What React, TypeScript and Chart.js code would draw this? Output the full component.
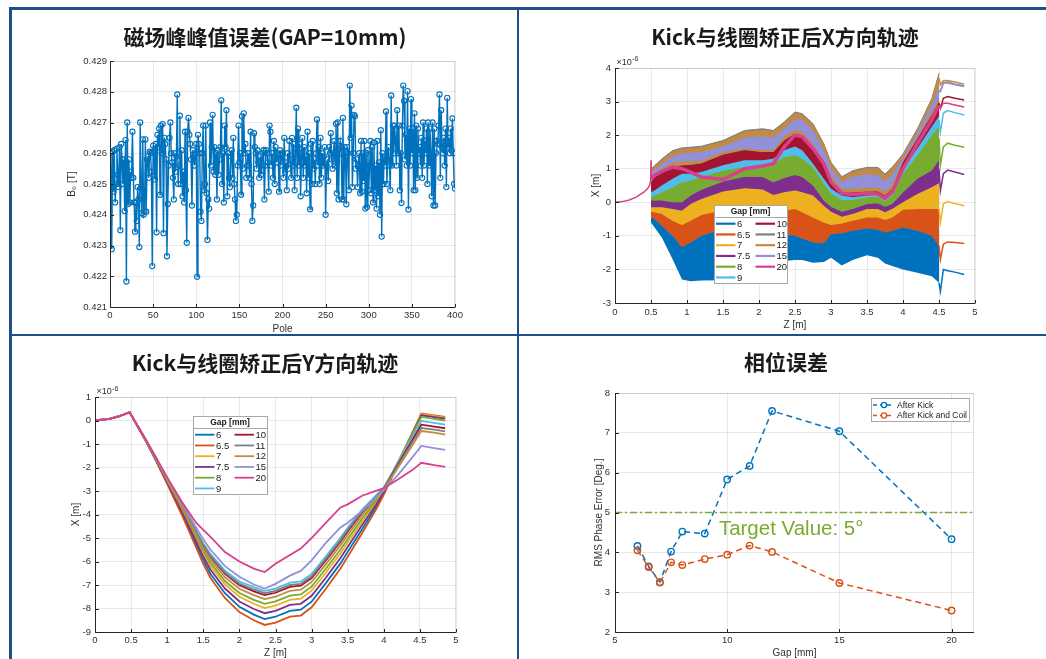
import React, { useEffect, useRef } from "react";
import { Chart, registerables } from "chart.js";

Chart.register(...registerables);

const W = 1046;
const H = 659;
const FONT = "'Liberation Sans', Arial, Helvetica, sans-serif";
const CJK = "'Noto Sans CJK SC', 'Noto Sans', sans-serif";
const TICK_COLOR = "#303030";
const GRID_COLOR = "rgba(0,0,0,0.085)";
const FRAME_BLUE = "#1f4e8c";

// ---------------- Panel 1: B0 peak error per pole ----------------
const p1Title = "磁场峰峰值误差(GAP=10mm)";
const p1XTicks = [0, 50, 100, 150, 200, 250, 300, 350, 400];
const p1YTicks = [0.421, 0.422, 0.423, 0.424, 0.425, 0.426, 0.427, 0.428, 0.429];
const poleB0 = [
  0.426, 0.42288, 0.42605, 0.42475, 0.4261, 0.4244, 0.425, 0.42615, 0.4253, 0.4249,
  0.4262, 0.4235, 0.4263, 0.4258, 0.425, 0.4258, 0.42412, 0.42643, 0.42183, 0.427,
  0.42435, 0.4258, 0.4244, 0.4254, 0.4252, 0.4267, 0.4252, 0.4244, 0.42345, 0.4244,
  0.4238, 0.4249, 0.4245, 0.42295, 0.427, 0.4249, 0.42405, 0.42645, 0.424, 0.4241,
  0.42645, 0.4241, 0.4258, 0.4259, 0.4252, 0.42605, 0.426, 0.4254, 0.42233, 0.42625,
  0.42605, 0.42515, 0.4263, 0.42343, 0.4266, 0.4262, 0.4268, 0.42465, 0.4269, 0.426,
  0.42695, 0.4234, 0.4265, 0.4263, 0.4258, 0.42265, 0.42435, 0.4256, 0.4265, 0.427,
  0.426, 0.4257, 0.4252, 0.4245, 0.426, 0.4254, 0.4259, 0.42791, 0.425, 0.4256,
  0.42722, 0.425, 0.4261, 0.4246, 0.4254, 0.4244, 0.4267, 0.4248, 0.42309, 0.4267,
  0.42715, 0.4266, 0.4263, 0.4258, 0.4243, 0.4261, 0.4259, 0.4256, 0.426, 0.4263,
  0.42198, 0.4266, 0.4263, 0.426, 0.4241, 0.4238, 0.426, 0.4269, 0.4248, 0.425,
  0.4269, 0.4247, 0.42318, 0.4245, 0.4242, 0.427, 0.4256, 0.4262, 0.42725, 0.4254,
  0.4262, 0.4253, 0.426, 0.4245, 0.4261, 0.4253, 0.4258, 0.4262, 0.42772, 0.425,
  0.426, 0.4244, 0.4269, 0.4262, 0.4274, 0.4246, 0.426, 0.4252, 0.4249, 0.4259,
  0.4261, 0.4252, 0.4265, 0.425, 0.4245, 0.4238, 0.424, 0.4256, 0.4269, 0.4257,
  0.426, 0.42465, 0.4272, 0.4255, 0.4273, 0.426, 0.4263, 0.4252, 0.4256, 0.426,
  0.4256, 0.4252, 0.4267, 0.425, 0.4238, 0.4243, 0.42665, 0.4262, 0.426, 0.4255,
  0.4261, 0.4257, 0.4252, 0.4259, 0.4253, 0.42545, 0.426, 0.4261, 0.4245, 0.4256,
  0.4261, 0.426, 0.4257, 0.42475, 0.4269, 0.4267, 0.4256, 0.426, 0.4252, 0.4264,
  0.425, 0.4262, 0.4257, 0.426, 0.4259, 0.42475, 0.4261, 0.4256, 0.4259, 0.426,
  0.4252, 0.4265, 0.4254, 0.4257, 0.4248, 0.426, 0.4255, 0.4264, 0.4258, 0.4252,
  0.4265, 0.4256, 0.4263, 0.4248, 0.426, 0.42748, 0.4252, 0.4268, 0.4256, 0.4263,
  0.4246, 0.426, 0.4265, 0.4252, 0.4262, 0.4256, 0.4259, 0.4247, 0.4267, 0.4252,
  0.426, 0.42418, 0.4263, 0.425, 0.4264, 0.4255, 0.4258, 0.425, 0.426, 0.4271,
  0.4256, 0.4262, 0.425, 0.4265, 0.4252, 0.426, 0.4256, 0.4259, 0.4262, 0.424,
  0.4256, 0.4258, 0.4251, 0.4262, 0.426, 0.42665, 0.4258, 0.4255, 0.426, 0.4264,
  0.4256, 0.42696, 0.4247, 0.427, 0.4245, 0.426, 0.4264, 0.4262, 0.4245, 0.42715,
  0.4245, 0.4262, 0.4259, 0.42434, 0.4262, 0.426, 0.4248, 0.4282, 0.4265, 0.42755,
  0.4249, 0.426, 0.42725, 0.4272, 0.4255, 0.4258, 0.4249, 0.4256, 0.426, 0.4247,
  0.4264, 0.42475, 0.426, 0.4251, 0.4264, 0.4242, 0.426, 0.42425, 0.4261, 0.4248,
  0.4256, 0.4264, 0.4247, 0.4262, 0.4244, 0.42635, 0.4248, 0.4256, 0.4242, 0.4264,
  0.4246, 0.4257, 0.424, 0.42675, 0.42329, 0.426, 0.425, 0.4259, 0.4256, 0.42736,
  0.425, 0.4258, 0.4262, 0.4256, 0.4248, 0.42788, 0.4256, 0.4269, 0.426, 0.4269,
  0.4264, 0.4256, 0.4274, 0.426, 0.4269, 0.4248, 0.426, 0.42438, 0.4269, 0.4282,
  0.4277, 0.4258, 0.4266, 0.4256, 0.42802, 0.42417, 0.4268, 0.4256, 0.42776, 0.426,
  0.4268, 0.4248, 0.4273, 0.4248, 0.4269, 0.4252, 0.4268, 0.426, 0.4262, 0.4256,
  0.4265, 0.4252, 0.427, 0.4256, 0.4264, 0.426, 0.4268, 0.425, 0.427, 0.4256,
  0.4268, 0.426, 0.4246, 0.427, 0.4243, 0.4268, 0.4243, 0.426, 0.4264, 0.4263,
  0.4269, 0.42791, 0.4252, 0.4274, 0.4262, 0.426, 0.4265, 0.4256, 0.4268, 0.4249,
  0.4278, 0.4262, 0.4265, 0.426, 0.4268, 0.4261, 0.42713, 0.426, 0.425, 0.42485,
];

// ---------------- Shared gap legend ----------------
const gapLabels = ["6", "6.5", "7", "7.5", "8", "9", "10", "11", "12", "15", "20"];
const gapColors = ["#0072BD", "#D95319", "#EDB120", "#7E2F8E", "#77AC30", "#4DBEEE", "#A2142F", "#7F7F7F", "#C38A44", "#9290D8", "#D6408C"];
const zTicks = [0, 0.5, 1, 1.5, 2, 2.5, 3, 3.5, 4, 4.5, 5];

// ---------------- Panel 2: X trajectory bands ----------------
const p2Title = "Kick与线圈矫正后X方向轨迹";
const p2YTicks = [-3, -2, -1, 0, 1, 2, 3, 4];
const zBand = [0.5, 0.55, 0.65, 0.8, 0.93, 1.05, 1.2, 1.5, 1.8, 2.05, 2.2, 2.35, 2.5, 2.6, 2.75, 2.9, 3.0, 3.15, 3.3, 3.5, 3.65, 3.75, 3.85, 4.0, 4.2, 4.4, 4.5];
const xEdge0 = [-0.6, -0.75, -1.05, -1.7, -2.3, -2.35, -2.33, -2.32, -2.05, -1.75, -1.75, -1.75, -1.72, -1.72, -1.8, -1.78, -1.65, -1.88, -1.72, -1.58, -1.65, -1.82, -1.9, -2.0, -2.1, -2.2, -2.4];
const xEdge1 = [-0.45, -0.5, -0.7, -1.0, -1.33, -1.2, -1.0, -0.8, -0.7, -0.82, -0.92, -0.95, -1.0, -1.08, -1.2, -1.22, -0.95, -0.92, -0.85, -0.78, -0.82, -0.9, -0.85, -0.75, -0.85, -1.0, -1.3];
const xEdge2 = [-0.28, -0.3, -0.35, -0.55, -0.68, -0.55, -0.38, -0.24, -0.14, -0.2, -0.3, -0.25, -0.2, -0.3, -0.45, -0.6, -0.68, -0.63, -0.55, -0.45, -0.45, -0.53, -0.45, -0.22, -0.2, -0.2, -0.2];
const xEdge3 = [-0.15, -0.15, -0.15, -0.2, -0.25, -0.05, 0.1, 0.32, 0.42, 0.38, 0.22, 0.3, 0.35, 0.3, 0.2, -0.1, -0.28, -0.43, -0.35, -0.2, -0.2, -0.3, -0.2, 0.0, 0.25, 0.45, 0.57];
const xEdge4 = [0.05, 0.05, 0.05, 0.0, 0.0, 0.2, 0.37, 0.62, 0.76, 0.75, 0.6, 0.72, 0.81, 0.75, 0.5, 0.05, -0.13, -0.28, -0.2, -0.05, -0.03, -0.13, -0.05, 0.3, 0.7, 0.95, 1.26];
const xEdge5 = [0.15, 0.2, 0.3, 0.45, 0.6, 0.65, 0.76, 0.95, 1.06, 1.1, 1.15, 1.35, 1.4, 1.3, 1.05, 0.55, 0.27, 0.07, 0.07, 0.15, 0.17, 0.03, 0.2, 0.85, 1.4, 2.0, 2.26];
const xEdge6 = [0.3, 0.35, 0.5, 0.7, 0.85, 0.85, 0.9, 1.1, 1.25, 1.25, 1.3, 1.55, 1.66, 1.55, 1.15, 0.7, 0.4, 0.2, 0.15, 0.2, 0.22, 0.1, 0.25, 1.0, 1.6, 2.25, 2.56];
const xEdge7 = [0.6, 0.75, 0.9, 1.05, 1.1, 1.12, 1.16, 1.42, 1.56, 1.5, 1.5, 1.85, 2.05, 2.0, 1.6, 1.1, 0.65, 0.28, 0.3, 0.32, 0.33, 0.2, 0.4, 1.2, 1.9, 2.6, 3.0];
const xTop = [0.95, 1.05, 1.25, 1.5, 1.58, 1.6, 1.63, 1.8, 2.1, 2.15, 2.1, 2.35, 2.65, 2.6, 2.3, 1.7, 1.15, 0.72, 0.9, 1.0, 1.0, 0.8, 1.0, 1.4, 2.15, 3.05, 3.8];
const xTopGrey = [0.99, 1.09, 1.29, 1.54, 1.62, 1.64, 1.67, 1.84, 2.14, 2.19, 2.14, 2.39, 2.69, 2.64, 2.34, 1.74, 1.19, 0.76, 0.94, 1.04, 1.04, 0.84, 1.04, 1.44, 2.19, 3.09, 3.84];
const x15Low = [0.68, 0.85, 1.0, 1.18, 1.22, 1.22, 1.24, 1.5, 1.6, 1.56, 1.56, 1.95, 2.15, 2.1, 1.72, 1.22, 0.78, 0.4, 0.4, 0.43, 0.44, 0.32, 0.52, 1.25, 1.95, 2.7, 3.08];
const x15High = [0.85, 0.95, 1.12, 1.35, 1.45, 1.46, 1.48, 1.65, 1.92, 1.95, 1.92, 2.18, 2.45, 2.45, 2.12, 1.52, 0.98, 0.6, 0.75, 0.82, 0.8, 0.62, 0.8, 1.32, 2.05, 2.88, 3.35];
const x20Mid = [0.7, 0.8, 0.92, 1.05, 1.0, 0.9, 0.75, 0.68, 1.0, 1.08, 1.15, 1.65, 2.0, 1.95, 1.6, 1.15, 0.6, 0.27, 0.23, 0.27, 0.25, 0.12, 0.3, 1.0, 1.75, 2.45, 2.9];
const zLead = [0, 0.1, 0.2, 0.3, 0.4, 0.45, 0.48, 0.495, 0.5, 0.503];
const xLead = [0, 0.02, 0.07, 0.16, 0.3, 0.4, 0.5, 0.65, 1.25, 0.7];
const zTail = [4.5, 4.52, 4.56, 4.62, 4.72, 4.85];
const xTail6 = [-2.4, -2.65, -2.0, -2.04, -2.08, -2.15];
const xTail65 = [-1.3, -1.7, -1.25, -1.18, -1.2, -1.23];
const xTail7 = [-0.2, -0.6, -0.05, 0.02, -0.04, -0.1];
const xTail75 = [1.0, 0.35, 0.85, 0.96, 0.9, 0.83];
const xTail8 = [1.9, 1.1, 1.65, 1.76, 1.7, 1.64];
const xTail9 = [2.45, 2.1, 2.65, 2.73, 2.67, 2.6];
const xTail10 = [2.95, 2.8, 3.1, 3.15, 3.1, 3.05];
const xTail11 = [3.3, 3.3, 3.55, 3.58, 3.52, 3.47];
const xTail12 = [3.7, 3.5, 3.62, 3.63, 3.58, 3.52];
const xTail15 = [3.3, 3.3, 3.55, 3.55, 3.5, 3.45];
const xTail20 = [2.9, 2.8, 2.95, 2.95, 2.9, 2.84];

// ---------------- Panel 3: Y trajectories ----------------
const p3Title = "Kick与线圈矫正后Y方向轨迹";
const p3YTicks = [-9, -8, -7, -6, -5, -4, -3, -2, -1, 0, 1];
const zY = [0, 0.2, 0.35, 0.48, 0.7, 0.85, 1.0, 1.2, 1.4, 1.5, 1.6, 1.8, 2.0, 2.2, 2.35, 2.5, 2.7, 2.85, 3.0, 3.2, 3.4, 3.5, 3.7, 3.9, 4.0, 4.2, 4.4, 4.52, 4.7, 4.85];
const y6 = [0, 0.07, 0.2, 0.35, -0.84, -1.73, -2.66, -3.93, -5.28, -5.95, -6.53, -7.35, -7.93, -8.26, -8.45, -8.35, -8.1, -8.05, -7.71, -6.91, -6.08, -5.59, -4.63, -3.65, -3.1, -1.81, -0.52, 0.25, 0.17, 0.1];
const y65 = [0, 0.07, 0.2, 0.35, -0.85, -1.75, -2.7, -4.0, -5.4, -6.1, -6.7, -7.55, -8.15, -8.5, -8.7, -8.6, -8.35, -8.3, -7.95, -7.15, -6.3, -5.8, -4.8, -3.75, -3.15, -1.82, -0.49, 0.3, 0.22, 0.15];
const y7 = [0, 0.07, 0.2, 0.35, -0.83, -1.69, -2.59, -3.78, -5.04, -5.67, -6.2, -6.97, -7.5, -7.8, -7.98, -7.88, -7.63, -7.58, -7.24, -6.47, -5.65, -5.19, -4.3, -3.46, -3.0, -1.74, -0.48, 0.27, 0.19, 0.12];
const y75 = [0, 0.07, 0.2, 0.35, -0.84, -1.71, -2.63, -3.85, -5.15, -5.8, -6.35, -7.15, -7.7, -8.02, -8.2, -8.1, -7.85, -7.8, -7.46, -6.68, -5.85, -5.38, -4.45, -3.55, -3.05, -1.79, -0.53, 0.22, 0.14, 0.08];
const y8 = [0, 0.07, 0.2, 0.35, -0.82, -1.68, -2.57, -3.73, -4.95, -5.56, -6.07, -6.83, -7.34, -7.63, -7.8, -7.7, -7.45, -7.4, -7.07, -6.3, -5.49, -5.04, -4.17, -3.39, -2.95, -1.76, -0.56, 0.15, 0.07, 0.0];
const y9 = [0, 0.07, 0.2, 0.35, -0.81, -1.63, -2.48, -3.57, -4.68, -5.23, -5.69, -6.39, -6.85, -7.09, -7.25, -7.15, -6.9, -6.85, -6.53, -5.77, -4.99, -4.57, -3.79, -3.17, -2.85, -1.76, -0.67, -0.02, -0.1, -0.18];
const y10 = [0, 0.07, 0.2, 0.35, -0.81, -1.65, -2.51, -3.62, -4.77, -5.34, -5.81, -6.53, -7.01, -7.27, -7.43, -7.33, -7.08, -7.03, -6.71, -5.94, -5.16, -4.72, -3.91, -3.24, -2.9, -1.85, -0.81, -0.18, -0.26, -0.33];
const y11 = [0, 0.07, 0.2, 0.35, -0.81, -1.64, -2.5, -3.6, -4.73, -5.29, -5.76, -6.47, -6.94, -7.19, -7.35, -7.25, -7.0, -6.95, -6.63, -5.87, -5.09, -4.65, -3.86, -3.21, -2.9, -1.91, -0.91, -0.32, -0.39, -0.46];
const y12 = [0, 0.07, 0.2, 0.35, -0.82, -1.66, -2.54, -3.67, -4.85, -5.44, -5.93, -6.67, -7.16, -7.43, -7.6, -7.5, -7.25, -7.2, -6.87, -6.11, -5.31, -4.87, -4.03, -3.31, -2.95, -1.99, -1.03, -0.45, -0.52, -0.6];
const y15 = [0, 0.07, 0.2, 0.35, -0.8, -1.6, -2.45, -3.5, -4.55, -5.05, -5.5, -6.2, -6.65, -6.98, -7.15, -6.95, -6.6, -6.4, -5.95, -5.2, -4.55, -4.35, -3.85, -3.25, -2.95, -2.3, -1.55, -1.08, -1.18, -1.25];
const y20 = [0, 0.07, 0.2, 0.35, -0.8, -1.6, -2.42, -3.45, -4.35, -4.65, -4.95, -5.6, -6.0, -6.3, -6.45, -6.1, -5.72, -5.45, -5.0, -4.35, -3.7, -3.57, -3.2, -2.98, -2.88, -2.5, -2.1, -1.8, -1.9, -1.97];

// ---------------- Panel 4: RMS phase error ----------------
const p4Title = "相位误差";
const p4XTicks = [5, 10, 15, 20];
const p4YTicks = [2, 3, 4, 5, 6, 7, 8];
const gaps = [6, 6.5, 7, 7.5, 8, 9, 10, 11, 12, 15, 20];
const afterKick = [4.16, 3.65, 3.25, 4.02, 4.52, 4.47, 5.83, 6.17, 7.55, 7.04, 4.33];
const afterKickCoil = [4.05, 3.63, 3.24, 3.75, 3.68, 3.83, 3.94, 4.17, 4.01, 3.23, 2.54];
const targetValue = 5;
const targetLabel = "Target Value: 5°";
const p4Series = ["After Kick", "After Kick and Coil"];

// ---------------- helpers ----------------
const pts = (xs: number[], ys: number[]) => xs.map((x, i) => ({ x, y: ys[i] }));
const numFmt = (v: number) => String(Number(Number(v).toFixed(4)));

function makeScales(p: any) {
  const tickFont = { family: FONT, size: 9.5 };
  const titleFont = { family: FONT, size: 10 };
  return {
    x: {
      type: "linear",
      min: p.xMin,
      max: p.xMax,
      afterBuildTicks: (s: any) => { s.ticks = p.xTicks.map((v: number) => ({ value: v })); },
      afterFit: (s: any) => { s.height = p.xH; },
      ticks: { font: tickFont, color: TICK_COLOR, padding: p.xPad, maxRotation: 0, minRotation: 0, autoSkip: false, callback: (v: number) => numFmt(v) },
      grid: { color: GRID_COLOR, drawTicks: false, lineWidth: 1 },
      border: { display: false },
      title: { display: true, text: p.xTitle, font: titleFont, color: TICK_COLOR, padding: 0 },
    },
    y: {
      type: "linear",
      min: p.yMin,
      max: p.yMax,
      afterBuildTicks: (s: any) => { s.ticks = p.yTicks.map((v: number) => ({ value: v })); },
      afterFit: (s: any) => { s.width = p.yW; },
      ticks: { font: tickFont, color: TICK_COLOR, padding: p.yPad, autoSkip: false, callback: p.yFmt || ((v: number) => numFmt(v)) },
      grid: { color: GRID_COLOR, drawTicks: false, lineWidth: 1 },
      border: { display: false },
      title: { display: true, text: p.yTitle, font: titleFont, color: TICK_COLOR, padding: 0 },
    },
  };
}

const matAxes = {
  id: "matAxes",
  afterDatasetsDraw(chart: any) {
    const { ctx, chartArea: a, scales } = chart;
    const xs = scales.x;
    const ys = scales.y;
    ctx.save();
    ctx.lineWidth = 1;
    ctx.strokeStyle = "rgba(0,0,0,0.12)";
    ctx.beginPath();
    ctx.moveTo(a.left, Math.round(a.top) + 0.5);
    ctx.lineTo(a.right, Math.round(a.top) + 0.5);
    ctx.moveTo(Math.round(a.right) - 0.5, a.top);
    ctx.lineTo(Math.round(a.right) - 0.5, a.bottom);
    ctx.stroke();
    ctx.strokeStyle = "#262626";
    ctx.beginPath();
    const L = Math.round(a.left) + 0.5;
    const B = Math.round(a.bottom) + 0.5;
    ctx.moveTo(L, a.top);
    ctx.lineTo(L, B);
    ctx.lineTo(a.right, B);
    for (const t of xs.ticks) {
      const px = Math.round(xs.getPixelForValue(t.value)) + 0.5;
      ctx.moveTo(px, B);
      ctx.lineTo(px, B - 3.5);
    }
    for (const t of ys.ticks) {
      const py = Math.round(ys.getPixelForValue(t.value)) + 0.5;
      ctx.moveTo(L, py);
      ctx.lineTo(L + 3.5, py);
    }
    ctx.stroke();
    ctx.restore();
  },
};

function drawExponent(ctx: CanvasRenderingContext2D, x: number, y: number) {
  ctx.save();
  ctx.fillStyle = TICK_COLOR;
  ctx.textAlign = "left";
  ctx.textBaseline = "middle";
  ctx.font = `9px ${FONT}`;
  ctx.fillText("×10", x, y);
  const w = ctx.measureText("×10").width;
  ctx.font = `7px ${FONT}`;
  ctx.fillText("-6", x + w + 0.5, y - 3);
  ctx.restore();
}

function drawGapLegend(ctx: CanvasRenderingContext2D, x: number, y: number, w: number, h: number, lineW: number) {
  ctx.save();
  ctx.fillStyle = "#ffffff";
  ctx.fillRect(x, y, w, h);
  ctx.strokeStyle = "#a8a8a8";
  ctx.lineWidth = 1;
  ctx.strokeRect(x + 0.5, y + 0.5, w, h);
  ctx.fillStyle = "#1a1a1a";
  ctx.font = `bold 8.5px ${FONT}`;
  ctx.textAlign = "center";
  ctx.textBaseline = "middle";
  ctx.fillText("Gap [mm]", x + w / 2, y + 7);
  ctx.beginPath();
  ctx.moveTo(x, y + 12.5);
  ctx.lineTo(x + w, y + 12.5);
  ctx.stroke();
  ctx.font = `9.5px ${FONT}`;
  ctx.textAlign = "left";
  gapLabels.forEach((lab, k) => {
    const col = k < 6 ? 0 : 1;
    const row = k < 6 ? k : k - 6;
    const ly = y + 18.7 + row * 10.75;
    const lx = x + 2 + col * 39.5;
    ctx.strokeStyle = gapColors[k];
    ctx.lineWidth = lineW;
    ctx.beginPath();
    ctx.moveTo(lx, ly);
    ctx.lineTo(lx + 19.5, ly);
    ctx.stroke();
    ctx.fillStyle = "#1a1a1a";
    ctx.fillText(lab, lx + 21, ly + 0.5);
  });
  ctx.restore();
}

function ChartCanvas({ make }: { make: () => any }) {
  const ref = useRef<HTMLCanvasElement | null>(null);
  useEffect(() => {
    const chart = new Chart(ref.current as HTMLCanvasElement, make());
    return () => chart.destroy();
  }, []);
  return (
    <canvas
      ref={ref}
      width={W}
      height={H}
      style={{ position: "absolute", left: 0, top: 0, width: W, height: H }}
    />
  );
}

const baseOptions = (padding: any, scales: any, extra: any = {}) => ({
  responsive: false,
  animation: false,
  devicePixelRatio: 1,
  events: [],
  layout: { padding },
  plugins: { legend: { display: false }, tooltip: { enabled: false }, title: { display: false } },
  scales,
  ...extra,
});

// ---------- configs ----------
function makeP1() {
  return {
    type: "line",
    data: {
      datasets: [
        {
          data: poleB0.map((v, i) => ({ x: i + 1, y: v })),
          borderColor: "#0072BD",
          borderWidth: 1.4,
          pointRadius: 2.6,
          pointBorderWidth: 1.1,
          pointBorderColor: "#0072BD",
          pointBackgroundColor: "rgba(255,255,255,0)",
          fill: false,
        },
      ],
    },
    options: baseOptions(
      { left: 66, right: 591, top: 61, bottom: 324 },
      makeScales({
        xMin: 0, xMax: 400, xTicks: p1XTicks, xH: 28, xPad: 3, xTitle: "Pole",
        yMin: 0.421, yMax: 0.429, yTicks: p1YTicks, yW: 44, yPad: 3, yTitle: "B₀ [T]",
        yFmt: (v: number) => Number(v).toFixed(3),
      })
    ),
    plugins: [matAxes],
  };
}

function makeP2() {
  const datasets: any[] = [];
  let seq = 0;
  const bands = [
    [xEdge0, xEdge1], [xEdge1, xEdge2], [xEdge2, xEdge3], [xEdge3, xEdge4], [xEdge4, xEdge5],
    [xEdge5, xEdge6], [xEdge6, xEdge7], [xEdge7, xTopGrey], [xEdge7, xTop], [x15Low, x15High],
  ];
  bands.forEach(([lo, hi], k) => {
    datasets.push({ data: pts(zBand, lo), borderColor: "rgba(0,0,0,0)", borderWidth: 1, pointRadius: 0, fill: false, order: 1000 - seq++ });
    datasets.push({ data: pts(zBand, hi), borderColor: gapColors[k], backgroundColor: gapColors[k], borderWidth: 1, pointRadius: 0, fill: "-1", order: 1000 - seq++ });
  });
  datasets.push({ data: pts(zBand, x20Mid), borderColor: gapColors[10], borderWidth: 3.5, pointRadius: 0, fill: false, order: 1000 - seq++ });
  const tails = [xTail6, xTail65, xTail7, xTail75, xTail8, xTail9, xTail10, xTail11, xTail12, xTail15, xTail20];
  tails.forEach((t, k) => {
    datasets.push({ data: pts(zTail, t), borderColor: gapColors[k], borderWidth: 1.5, pointRadius: 0, fill: false, order: 1000 - seq++ });
  });
  datasets.push({ data: pts(zLead, xLead), borderColor: gapColors[10], borderWidth: 1.5, pointRadius: 0, fill: false, order: 1000 - seq++ });
  return {
    type: "line",
    data: { datasets },
    options: baseOptions(
      { left: 590, right: 71, top: 68, bottom: 328 },
      makeScales({
        xMin: 0, xMax: 5, xTicks: zTicks, xH: 28, xPad: 4, xTitle: "Z [m]",
        yMin: -3, yMax: 4, yTicks: p2YTicks, yW: 25, yPad: 4, yTitle: "X [m]",
      })
    ),
    plugins: [
      matAxes,
      {
        id: "p2extra",
        afterDraw(chart: any) {
          const a = chart.chartArea;
          drawExponent(chart.ctx, a.left + 1.5, a.top - 5.5);
          drawGapLegend(chart.ctx, 714, 205, 73, 78, 2.2);
        },
      },
    ],
  };
}

function makeP3() {
  const series = [y6, y65, y7, y75, y8, y9, y10, y11, y12, y15, y20];
  const datasets = series.map((s, k) => ({
    data: pts(zY, s),
    borderColor: gapColors[k],
    borderWidth: 1.8,
    pointRadius: 0,
    fill: false,
    order: 100 - k,
  }));
  return {
    type: "line",
    data: { datasets },
    options: baseOptions(
      { left: 70, right: 590, top: 397, bottom: 0 },
      makeScales({
        xMin: 0, xMax: 5, xTicks: zTicks, xH: 27, xPad: 3, xTitle: "Z [m]",
        yMin: -9, yMax: 1, yTicks: p3YTicks, yW: 25, yPad: 4, yTitle: "X [m]",
      })
    ),
    plugins: [
      matAxes,
      {
        id: "p3extra",
        afterDraw(chart: any) {
          const a = chart.chartArea;
          drawExponent(chart.ctx, a.left + 1.5, a.top - 5);
          drawGapLegend(chart.ctx, 193, 416, 74, 78, 1.8);
        },
      },
    ],
  };
}

function makeP4() {
  const BLUE = "#0072BD";
  const ORANGE = "#D95319";
  const GREEN = "#77AC30";
  const mk = (ys: number[], color: string, order: number) => ({
    data: pts(gaps, ys),
    borderColor: color,
    borderWidth: 1.5,
    borderDash: [6, 4],
    pointRadius: 3.2,
    pointBorderWidth: 1.4,
    pointBorderColor: color,
    pointBackgroundColor: "rgba(255,255,255,0)",
    fill: false,
    order,
  });
  return {
    type: "line",
    data: {
      datasets: [
        { data: [{ x: 5, y: targetValue }, { x: 21, y: targetValue }], borderColor: GREEN, borderWidth: 1.5, borderDash: [7, 3, 2, 3], pointRadius: 0, fill: false, order: 0 },
        mk(afterKickCoil, ORANGE, 1),
        mk(afterKick, BLUE, 2),
      ],
    },
    options: baseOptions(
      { left: 593, right: 72, top: 393, bottom: 0 },
      makeScales({
        xMin: 5, xMax: 21, xTicks: p4XTicks, xH: 27, xPad: 3, xTitle: "Gap [mm]",
        yMin: 2, yMax: 8, yTicks: p4YTicks, yW: 22, yPad: 5, yTitle: "RMS Phase Error [Deg.]",
      })
    ),
    plugins: [
      matAxes,
      {
        id: "p4extra",
        afterDraw(chart: any) {
          const { ctx, scales } = chart;
          ctx.save();
          ctx.fillStyle = GREEN;
          ctx.font = `20.5px ${FONT}`;
          ctx.textAlign = "left";
          ctx.textBaseline = "middle";
          ctx.fillText(targetLabel, scales.x.getPixelForValue(9.63), scales.y.getPixelForValue(4.58));
          // legend
          const x = 871, y = 398, w = 98, h = 23;
          ctx.fillStyle = "#fff";
          ctx.fillRect(x, y, w, h);
          ctx.strokeStyle = "#a8a8a8";
          ctx.lineWidth = 1;
          ctx.setLineDash([]);
          ctx.strokeRect(x + 0.5, y + 0.5, w, h);
          ctx.font = `8.5px ${FONT}`;
          [BLUE, ORANGE].forEach((c, k) => {
            const ly = y + 7 + k * 10.5;
            ctx.strokeStyle = c;
            ctx.lineWidth = 1.4;
            ctx.setLineDash([4, 3]);
            ctx.beginPath();
            ctx.moveTo(x + 2, ly);
            ctx.lineTo(x + 22, ly);
            ctx.stroke();
            ctx.setLineDash([]);
            ctx.beginPath();
            ctx.arc(x + 13, ly, 2.6, 0, Math.PI * 2);
            ctx.fillStyle = "#fff";
            ctx.fill();
            ctx.stroke();
            ctx.fillStyle = "#1a1a1a";
            ctx.fillText(p4Series[k], x + 26, ly + 0.5);
          });
          ctx.restore();
        },
      },
    ],
  };
}

function Title({ text, cx, cy }: { text: string; cx: number; cy: number }) {
  return (
    <div
      style={{
        position: "absolute",
        left: cx - 250,
        width: 500,
        top: cy - 14,
        height: 28,
        lineHeight: "28px",
        textAlign: "center",
        fontFamily: CJK,
        fontWeight: 700,
        fontSize: 21,
        color: "#1a1a1a",
        whiteSpace: "nowrap",
      }}
    >
      {text}
    </div>
  );
}

const bar = (left: number, top: number, width: number, height: number) => (
  <div style={{ position: "absolute", left, top, width, height, background: FRAME_BLUE }} />
);

export default function App() {
  return (
    <div style={{ position: "absolute", left: 0, top: 0, width: W, height: H, background: "#ffffff", overflow: "hidden" }}>
      <ChartCanvas make={makeP1} />
      <ChartCanvas make={makeP2} />
      <ChartCanvas make={makeP3} />
      <ChartCanvas make={makeP4} />
      <Title text={p1Title} cx={265} cy={36} />
      <Title text={p2Title} cx={785} cy={36} />
      <Title text={p3Title} cx={265} cy={362} />
      <Title text={p4Title} cx={786} cy={361} />
      {bar(9, 7, W - 9, 3)}
      {bar(9, 7, 3, H - 7)}
      {bar(517, 7, 2, H - 7)}
      {bar(9, 334, W - 9, 2)}
    </div>
  );
}
